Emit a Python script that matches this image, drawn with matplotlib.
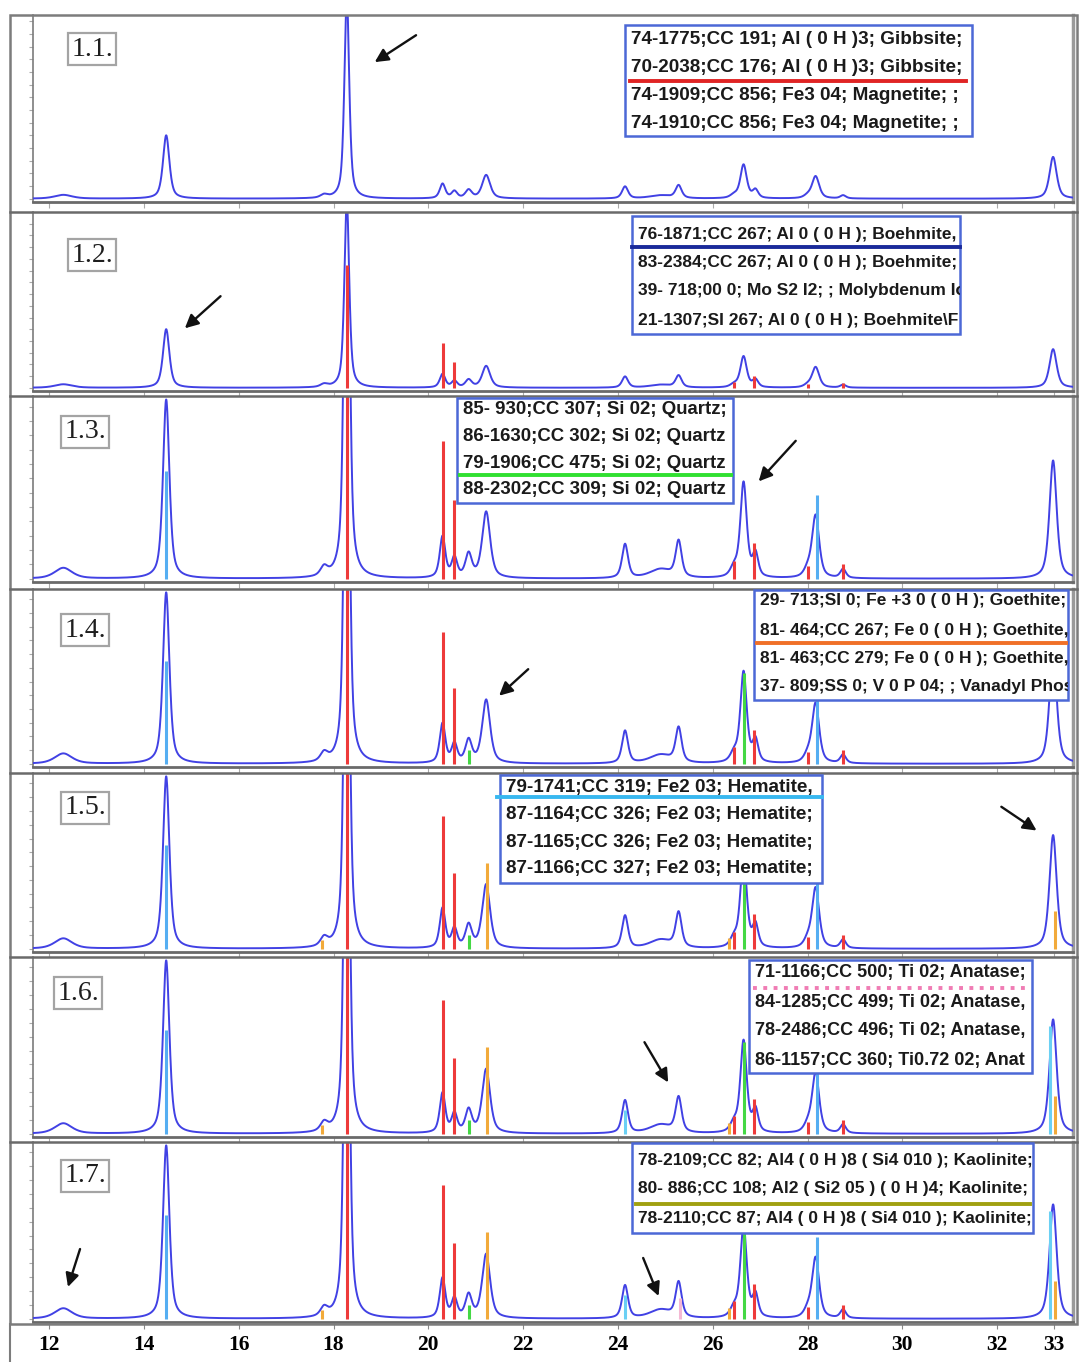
import numpy as np
import matplotlib.pyplot as plt
from matplotlib.patches import Rectangle
from matplotlib.lines import Line2D
from matplotlib.ticker import MaxNLocator

W, H = 1080, 1362

# measured pattern: 2-theta position, relative intensity (14.5 peak = 1), half width
peak_pos = [12.3, 14.47, 17.8, 18.28, 20.3, 20.55, 20.85, 21.22, 24.15, 24.9,
            25.28, 26.45, 26.65, 26.9, 28.0, 28.17, 28.75, 33.18]
peak_int = [0.06, 1.0, 0.05, 3.2, 0.23, 0.11, 0.13, 0.37, 0.19, 0.05,
            0.2, 0.05, 0.53, 0.13, 0.04, 0.35, 0.05, 0.66]
peak_hw = [0.22, 0.08, 0.09, 0.06, 0.07, 0.07, 0.08, 0.1, 0.075, 0.28,
           0.075, 0.09, 0.08, 0.07, 0.09, 0.09, 0.07, 0.09]

# reference sticks per phase: positions, heights, colour, first panel shown
gibbsite_pos = [18.28, 20.3, 20.55, 26.45, 26.88, 28.0, 28.75]
gibbsite_h = [2.1, 0.77, 0.44, 0.1, 0.2, 0.07, 0.08]
boehmite_pos = [14.47, 28.2]
boehmite_h = [0.6, 0.47]
quartz_pos = [20.85, 26.65]
quartz_h = [0.08, 0.53]
goethite_pos = [17.75, 21.24, 26.35, 33.22]
goethite_h = [0.05, 0.5, 0.06, 0.22]
hematite_pos = [24.15, 33.12]
hematite_h = [0.14, 0.62]
anatase_pos = [25.3]
anatase_h = [0.12]

phases = [
    (gibbsite_pos, gibbsite_h, '#ee3a3a', 1),
    (boehmite_pos, boehmite_h, '#55aef2', 2),
    (quartz_pos, quartz_h, '#44d844', 3),
    (goethite_pos, goethite_h, '#f2aa3a', 4),
    (hematite_pos, hematite_h, '#6ad0f4', 5),
    (anatase_pos, anatase_h, '#f4b8d4', 6),
]

panel_names = ['1.1.', '1.2.', '1.3.', '1.4.', '1.5.', '1.6.', '1.7.']
panel_ymax = [2.9, 3.0, 1.02, 1.02, 1.02, 1.02, 1.02]
# pixel bands (top, bottom spine)
bands = [(15, 202), (212, 391), (396, 582), (589, 767), (773, 952), (957, 1137), (1142, 1322)]
label_px = [(92, 49), (92, 255), (85, 432), (85, 630), (85, 808), (78, 993), (85, 1176)]

# arrows: (panel, tail x, tail y frac, head x, head y frac)
arrows = [(0, 19.79, 0.90, 18.82, 0.74),
          (1, 15.66, 0.54, 14.82, 0.34),
          (2, 27.79, 0.77, 26.93, 0.53),
          (3, 22.15, 0.56, 21.45, 0.39),
          (4, 32.04, 0.82, 32.88, 0.67),
          (5, 24.53, 0.54, 25.09, 0.29),
          (6, 12.67, 0.42, 12.38, 0.18),
          (6, 24.51, 0.37, 24.88, 0.13)]

legend_texts = [
    ["74-1775;CC 191; Al ( 0 H )3; Gibbsite;", "70-2038;CC 176; Al ( 0 H )3; Gibbsite;",
     "74-1909;CC 856; Fe3 04; Magnetite; ;", "74-1910;CC 856; Fe3 04; Magnetite; ;"],
    ["76-1871;CC 267; Al 0 ( 0 H ); Boehmite,", "83-2384;CC 267; Al 0 ( 0 H ); Boehmite;",
     "39- 718;00 0; Mo S2 I2; ; Molybdenum Io", "21-1307;SI 267; Al 0 ( 0 H ); Boehmite\\F"],
    ["85- 930;CC 307; Si 02; Quartz;", "86-1630;CC 302; Si 02; Quartz",
     "79-1906;CC 475; Si 02; Quartz", "88-2302;CC 309; Si 02; Quartz"],
    ["29- 713;SI 0; Fe +3 0 ( 0 H ); Goethite;", "81- 464;CC 267; Fe 0 ( 0 H ); Goethite,",
     "81- 463;CC 279; Fe 0 ( 0 H ); Goethite,", "37- 809;SS 0; V 0 P 04; ; Vanadyl Phos"],
    ["79-1741;CC 319; Fe2 03; Hematite,", "87-1164;CC 326; Fe2 03; Hematite;",
     "87-1165;CC 326; Fe2 03; Hematite;", "87-1166;CC 327; Fe2 03; Hematite;"],
    ["71-1166;CC 500; Ti 02; Anatase;", "84-1285;CC 499; Ti 02; Anatase,",
     "78-2486;CC 496; Ti 02; Anatase,", "86-1157;CC 360; Ti0.72 02; Anat"],
    ["78-2109;CC 82; Al4 ( 0 H )8 ( Si4 010 ); Kaolinite;",
     "80- 886;CC 108; Al2 ( Si2 05 ) ( 0 H )4; Kaolinite;",
     "78-2110;CC 87; Al4 ( 0 H )8 ( Si4 010 ); Kaolinite;"],
]
legend_fontsize = [13.6, 12.5, 13.4, 12.5, 13.6, 13.0, 12.5]
# box (x0, y0, x1, y1), line centres, underline (y, colour, x0, x1, style)
legend_boxes = [
    ((625, 25, 972, 136), [40, 68, 96, 124], (81, '#e02424', 630, 966, '-')),
    ((632, 216, 960, 334), [234, 263, 291, 320], (247, '#1a2a9a', 632, 960, '-')),
    ((457, 398, 733, 503), [409, 436, 463, 490], (475, '#30e030', 460, 731, '-')),
    ((754, 590, 1068, 700), [601, 630, 658, 687], (643, '#f07028', 757, 1066, '-')),
    ((500, 775, 822, 883), [787, 815, 842, 869], (797, '#38b8f0', 497, 822, '-')),
    ((749, 960, 1032, 1073), [973, 1002, 1031, 1060], (988, '#f07cb4', 753, 1029, ':')),
    ((632, 1143, 1033, 1233), [1160, 1189, 1218], (1204, '#a0a010', 636, 1030, '-')),
]

xticks = [12, 14, 16, 18, 20, 22, 24, 26, 28, 30, 32, 33.2]
xlabels = ['12', '14', '16', '18', '20', '22', '24', '26', '28', '30', '32', '33']

x = np.linspace(11.6, 33.7, 4000)
pattern = np.zeros_like(x)
for p, a, w in zip(peak_pos, peak_int, peak_hw):
    lor = 1 / (1 + ((x - p) / w) ** 2)
    gau = np.exp(-np.log(2) * ((x - p) / w) ** 2)
    pattern += a * (0.6 * lor + 0.4 * gau)


def fx(px):
    return px / W


def fy(py):
    return 1 - py / H


fig = plt.figure(figsize=(W / 100, H / 100), dpi=100)
fig.patch.set_facecolor('white')

grey = '#7c7c7c'
ax_left, ax_right = 33, 1073
axes = []
for i, (top, bot) in enumerate(bands):
    ax = fig.add_axes([fx(ax_left), fy(bot), fx(ax_right - ax_left), (bot - top) / H])
    ymax = panel_ymax[i]
    ax.set_xlim(11.66, 33.6)
    ax.set_ylim(-0.018 * ymax, ymax)
    ax.plot(x, pattern, color='#4141e4', lw=1.4, zorder=3)
    for pos, hts, col, first in phases:
        if i >= first:
            ax.vlines(pos, 0, hts, colors=col, lw=2.2, zorder=4)
    ax.spines['top'].set_visible(False)
    ax.spines['bottom'].set_color('#6a6a6a')
    ax.spines['bottom'].set_linewidth(2)
    ax.spines['left'].set_color(grey)
    ax.spines['left'].set_linewidth(1.2)
    ax.spines['right'].set_color('#9a9a9a')
    ax.spines['right'].set_linewidth(2.5)
    ax.yaxis.set_major_locator(MaxNLocator(17))
    ax.tick_params(axis='y', length=3, color='#aaaaaa', labelleft=False)
    ax.set_xticks(xticks)
    ax.tick_params(axis='x', length=4, color='#aaaaaa', labelbottom=False)
    lx, ly = label_px[i]
    fig.text(fx(lx), fy(ly), panel_names[i], family='Liberation Serif', fontsize=20,
             ha='center', va='center', color='#1e1e1e',
             bbox=dict(boxstyle='square,pad=0.12', fc='white', ec='#a4a4a4', lw=1.6))
    axes.append(ax)

bottom = axes[-1]
bottom.set_xticklabels(xlabels, family='Liberation Serif', fontweight='bold', fontsize=15.5)
bottom.tick_params(axis='x', labelbottom=True, length=5, color='#888888', pad=4)

# outer frame and panel separators
fig.add_artist(Rectangle((fx(10), fy(1324)), fx(1067), (1324 - 15) / H, transform=fig.transFigure,
                         fill=False, ec=grey, lw=1.8))
fig.add_artist(Line2D([fx(10), fx(10)], [fy(1324), 0], transform=fig.transFigure, color=grey, lw=1.5))
for top, bot in bands[1:]:
    fig.add_artist(Line2D([fx(10), fx(1077)], [fy(top), fy(top)], transform=fig.transFigure,
                          color='#6a6a6a', lw=1.8))

for i, tx, ty, hx, hy in arrows:
    axes[i].annotate('', xy=(hx, hy), xytext=(tx, ty), xycoords=('data', 'axes fraction'),
                     textcoords=('data', 'axes fraction'),
                     arrowprops=dict(arrowstyle='-|>', color='#111111', lw=1.7, mutation_scale=20),
                     zorder=6)

for texts, (box, ys, ul), fs in zip(legend_texts, legend_boxes, legend_fontsize):
    x0, y0, x1, y1 = box
    rect = Rectangle((fx(x0), fy(y1)), fx(x1 - x0), (y1 - y0) / H, transform=fig.transFigure,
                     fc='white', ec='#4c68d6', lw=1.8, zorder=10)
    fig.add_artist(rect)
    for t, yy in zip(texts, ys):
        txt = fig.text(fx(x0 + 6), fy(yy), t, family='Liberation Sans', fontweight='bold',
                       fontsize=fs, ha='left', va='center', color='#1a1a1a', zorder=11)
        txt.set_clip_path(rect)
    uy, ucol, ux0, ux1, ls = ul
    fig.add_artist(Line2D([fx(ux0), fx(ux1)], [fy(uy), fy(uy)], transform=fig.transFigure,
                          color=ucol, lw=2.8, ls=ls, zorder=12))

fig.savefig('out.png', dpi=100)
